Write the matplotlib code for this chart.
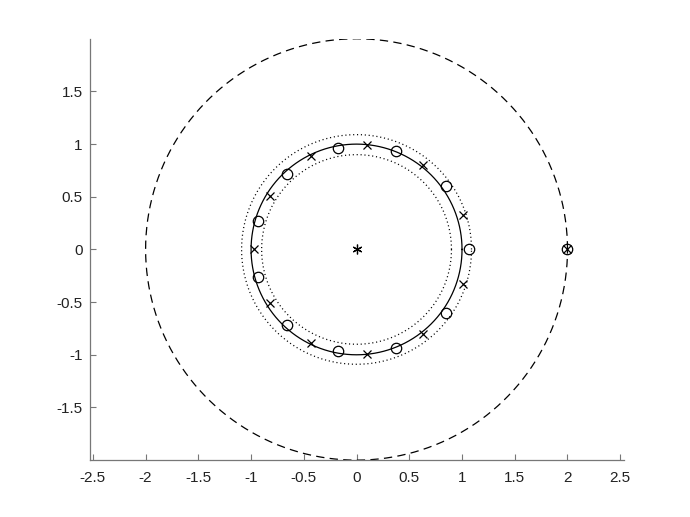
import numpy as np
import matplotlib
matplotlib.use("Agg")
import matplotlib.pyplot as plt

plt.rcParams['font.family'] = ['Liberation Sans', 'DejaVu Sans']
plt.rcParams['axes.unicode_minus'] = False
plt.rcParams['lines.scale_dashes'] = False

# zeros (upper half + real), conjugates added below
zeros_re = [1.07, 0.847, 0.373, -0.177, -0.655, -0.93]
zeros_im = [0.0, 0.603, 0.932, 0.962, 0.718, 0.266]
# poles (upper half + real)
poles_re = [-0.968, 1.009, 0.626, 0.095, -0.436, -0.825]
poles_im = [0.0, 0.328, 0.806, 0.99, 0.885, 0.512]
# extra marks
extra_zero = (2.0, 0.0)
extra_pole = (2.0, 0.0)
center_mark = (0.0, 0.0)
# reference circles radii
r_unit = 1.0
r_dotted = [0.9, 1.09]
r_dashed = 2.0

xticks = [-2.5, -2, -1.5, -1, -0.5, 0, 0.5, 1, 1.5, 2, 2.5]
xticklabels = ['-2.5', '-2', '-1.5', '-1', '-0.5', '0', '0.5', '1', '1.5', '2', '2.5']
yticks = [-1.5, -1, -0.5, 0, 0.5, 1, 1.5]
yticklabels = ['-1.5', '-1', '-0.5', '0', '0.5', '1', '1.5']


def conj_full(re, im):
    re = np.array(re); im = np.array(im)
    mask = im > 1e-9
    return np.concatenate([re, re[mask]]), np.concatenate([im, -im[mask]])


fig = plt.figure(figsize=(6.9, 5.17), dpi=100)
ax = fig.add_axes([0.13, 0.11, 0.775, 0.815])

t = np.linspace(0, 2 * np.pi, 721)
ax.plot(r_unit * np.cos(t), r_unit * np.sin(t), color='black', lw=0.9)
for r in r_dotted:
    ax.plot(r * np.cos(t), r * np.sin(t), color='black', lw=0.9,
            linestyle=(0, (0.8, 2.0)))
ax.plot(r_dashed * np.cos(t), r_dashed * np.sin(t), color='black', lw=0.9,
        linestyle=(0, (6.0, 3.8)))

zr, zi = conj_full(zeros_re, zeros_im)
pr, pi = conj_full(poles_re, poles_im)
ax.plot(zr, zi, linestyle='none', marker='o', markersize=7.5, markerfacecolor='none',
        markeredgecolor='black', markeredgewidth=0.9)
ax.plot(pr, pi, linestyle='none', marker='x', markersize=6, markeredgecolor='black',
        markeredgewidth=0.9)
ax.plot([extra_zero[0]], [extra_zero[1]], linestyle='none', marker='o', markersize=7.5,
        markerfacecolor='none', markeredgecolor='black', markeredgewidth=0.9)
ax.plot([extra_pole[0]], [extra_pole[1]], linestyle='none', marker='x', markersize=6,
        markeredgecolor='black', markeredgewidth=0.9)
ax.plot([center_mark[0]], [center_mark[1]], linestyle='none', marker=(6, 2, 0),
        markersize=7, markeredgecolor='black', markeredgewidth=0.9)

ax.set_xlim(-2.53, 2.54)
ax.set_ylim(-2.0, 2.0)
ax.set_xticks(xticks)
ax.set_xticklabels(xticklabels)
ax.set_yticks(yticks)
ax.set_yticklabels(yticklabels)

for s in ['top', 'right']:
    ax.spines[s].set_visible(False)
for s in ['left', 'bottom']:
    ax.spines[s].set_color('#777777')
    ax.spines[s].set_linewidth(0.9)
ax.tick_params(axis='both', direction='in', length=4, width=0.8, color='#777777',
               labelsize=11, labelcolor='#222222')
ax.tick_params(axis='x', pad=8)
ax.tick_params(axis='y', pad=5)

fig.savefig('out.png', dpi=100)
